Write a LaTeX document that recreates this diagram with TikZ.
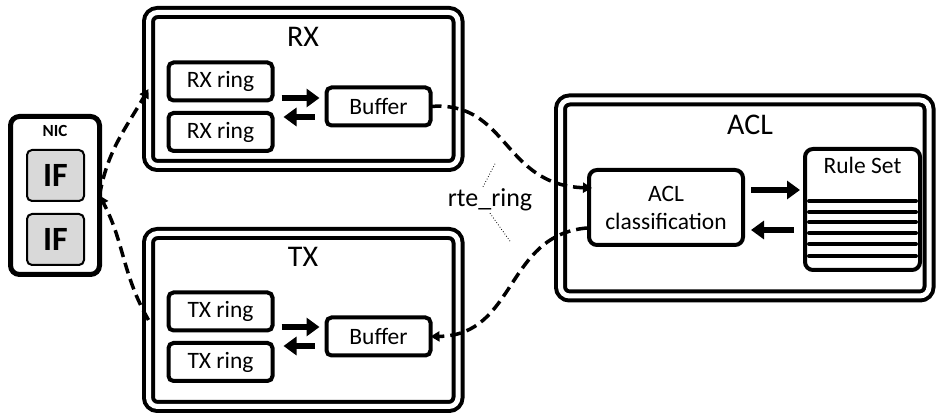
\documentclass[tikz,border=0pt]{standalone}
\usepackage{fontspec}
\setmainfont{Carlito}
\usetikzlibrary{arrows.meta,calc}

\tikzset{
  every node/.style={inner sep=0pt, outer sep=0pt},
  frame/.style={draw, double, line width=4pt, double distance=5pt,
    rounded corners=9pt, rectangle},
  nicbox/.style={draw, line width=5pt, rounded corners=9pt, rectangle},
  ifbox/.style={draw, line width=2pt, fill=black!15, rounded corners=5pt,
    minimum width=57pt, minimum height=51pt,
    font=\bfseries\fontsize{34}{34}\selectfont},
  ringbox/.style={draw, line width=4pt, rounded corners=5pt,
    minimum width=104pt, minimum height=38pt,
    font=\fontsize{23.5}{25}\selectfont},
  bigbox/.style={draw, line width=4pt, rounded corners=8pt, rectangle},
  heading/.style={font=\fontsize{30}{32}\selectfont},
  bigarrow/.style={line width=6pt, -{Triangle[length=13pt,width=18pt]}},
  flow/.style={line width=3.5pt, dash pattern=on 11pt off 6pt,
    -{Triangle[length=9pt,width=10pt]}},
  ruleline/.style={line width=4pt, line cap=round},
  pointer/.style={line width=0.8pt, dotted},
}

\begin{document}
\begin{tikzpicture}[x=1pt,y=1pt]
\useasboundingbox (0,0) rectangle (936,414);

% NIC with its two interfaces
\node[nicbox, minimum width=89pt, minimum height=158pt] (nic) at (55,218.5) {};
\node[font=\bfseries\fontsize{17}{17}\selectfont] (niclabel) at (55,283) {NIC};
\node[ifbox] (if1) at (55.5,238.5) {IF};
\node[ifbox] (if2) at (55.5,174.5) {IF};

% RX side
\node[frame, minimum width=309.5pt, minimum height=153pt] (rx) at (303.25,325) {};
\node[heading] (rxlabel) at (303,377) {RX};
\node[ringbox] (rxr1) at (220.5,332.5) {RX ring};
\node[ringbox] (rxr2) at (220.5,282) {RX ring};
\node[ringbox] (rxbuf) at (378.5,307.5) {Buffer};
\draw[bigarrow] ($(rxbuf.west -| rxr1.east)+(9,8.5)$) -- ($(rxbuf.west)+(-7,8.5)$);
\draw[bigarrow] ($(rxbuf.west)+(-12,-10.5)$) -- ($(rxbuf.west -| rxr1.east)+(11,-10.5)$);

% TX side
\node[frame, minimum width=309.5pt, minimum height=173pt] (tx) at (303.25,94) {};
\node[heading] (txlabel) at (303,157) {TX};
\node[ringbox] (txr1) at (220.5,102.5) {TX ring};
\node[ringbox] (txr2) at (220.5,52) {TX ring};
\node[ringbox] (txbuf) at (378.5,77.5) {Buffer};
\draw[bigarrow] ($(txbuf.west -| txr1.east)+(9,9.5)$) -- ($(txbuf.west)+(-7,9.5)$);
\draw[bigarrow] ($(txbuf.west)+(-12,-9.5)$) -- ($(txbuf.west -| txr1.east)+(11,-9.5)$);

% ACL
\node[frame, minimum width=368.5pt, minimum height=196pt] (acl) at (744.75,216) {};
\node[heading] (acllabel) at (750,289) {ACL};
\node[bigbox, minimum width=154pt, minimum height=75pt, align=center,
  font=\fontsize{23.5}{28}\selectfont] (aclc) at (666,206.5) {ACL\\classification};
\node[bigbox, minimum width=115pt, minimum height=121pt] (rules) at (862.5,204.5) {};
\node[font=\fontsize{23.5}{25}\selectfont] (ruleslabel) at (862.5,249) {Rule Set};
\foreach \yy in {213,202,192,181,170,158}
  \draw[ruleline] (809,\yy) -- (916,\yy);
\draw[bigarrow] ($(aclc.east)+(8,17.5)$) -- ($(rules.west)+(-5,19.5)$);
\draw[bigarrow] ($(rules.west)+(-11,-20.5)$) -- ($(aclc.east)+(8,-22.5)$);

% rte_ring flows
\draw[flow] (rxbuf.east) .. controls +(78,6) and +(-90,3) .. ($(aclc.west)+(3,19.5)$);
\draw[flow] ($(aclc.west)+(-2,-20.5)$) .. controls +(-82,-7) and +(86,1) .. (txbuf.east);
\draw[flow] (nic.east) to[out=80,in=240] (rx.west);
\draw[flow] (tx.west) to[out=120,in=-62] (nic.east);

% shared label for the rings
\node[font=\fontsize{26}{28}\selectfont] (rte) at (490,214) {rte\_ring};
\draw[pointer] ($(rte.north)+(-7,2)$) -- ($(rte.north)+(5,25)$);
\draw[pointer] ($(rte.south)+(0,-2)$) -- ($(rte.south)+(20,-30)$);
\end{tikzpicture}
\end{document}
